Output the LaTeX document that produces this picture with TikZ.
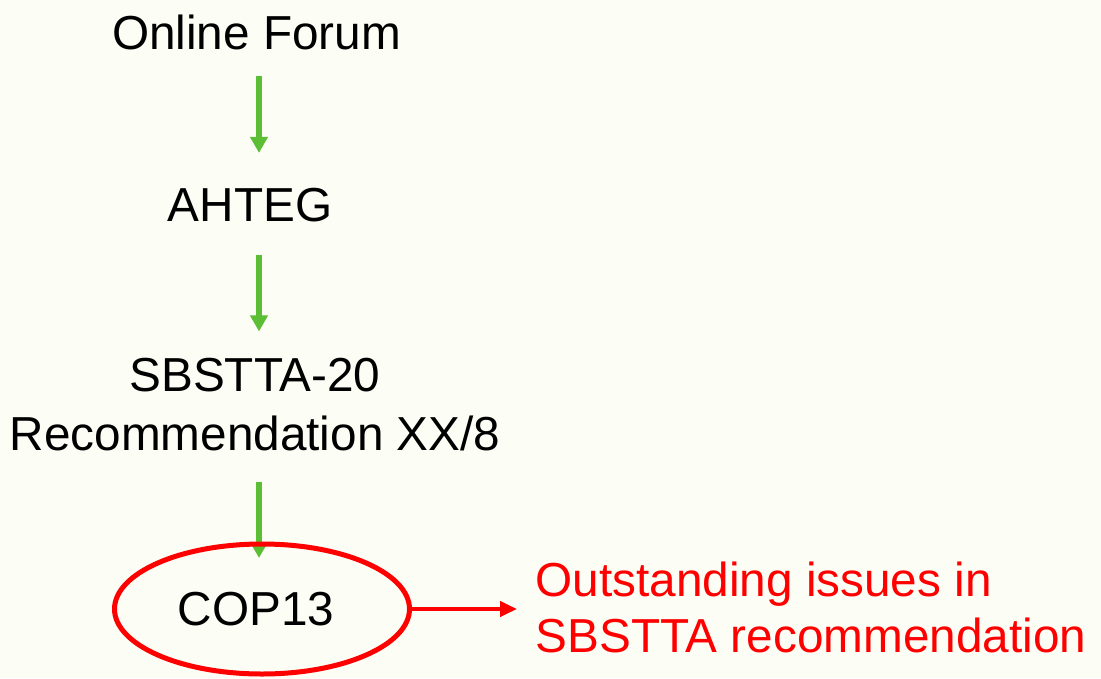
\documentclass[tikz,border=0pt]{standalone}
\usepackage{fontspec}
\setmainfont{Liberation Sans}
\usetikzlibrary{shapes.geometric,arrows.meta,backgrounds}

\definecolor{bgcream}{RGB}{252,253,244}
\definecolor{flowgreen}{RGB}{92,190,52}
\definecolor{issuered}{RGB}{255,0,0}

\begin{document}
\begin{tikzpicture}[x=1pt,y=-1pt,
  stage/.style={inner sep=0pt, font=\fontsize{47.7}{59}\selectfont, align=center},
  flow/.style={flowgreen, line width=6pt, -{Triangle[length=16pt,width=17pt]}}]
  \def\picW{1101} % em pontos
  \def\picH{678}

  \useasboundingbox (0,0) rectangle (\picW,\picH);
  \begin{scope}[on background layer]
    \fill[bgcream] (0,0) rectangle (\picW,\picH);
  \end{scope}

  \coordinate (axis) at (259,0);

  \node[stage, anchor=base] (forum) at (256.5,49) {Online Forum};
  \node[stage, anchor=base] (ahteg) at (250,221) {AHTEG};
  \node[stage] (sbstta) at (255,405) {SBSTTA-20\\Recommendation XX/8};
  \node[stage, ellipse, draw=issuered, line width=5pt,
        minimum width=295pt, minimum height=130pt] (cop) at (262,609) {COP13\hspace*{12pt}};
  \node[stage, issuered, anchor=west, align=left, font=\fontsize{47.7}{56}\selectfont]
        (issues) at (535.5,607) {Outstanding issues in\\SBSTTA recommendation};

  \begin{scope}[on background layer]
    \draw[flow, shorten <=26pt, shorten >=34.6pt] (forum.south -| axis) -- (ahteg.north -| axis);
    \draw[flow, shorten <=33.4pt, shorten >=27pt] (ahteg.south -| axis) -- (sbstta.north -| axis);
    \draw[flow, shorten <=30pt, shorten >=-16.5pt] (sbstta.south -| axis) -- (cop.north -| axis);
  \end{scope}

  \draw[issuered, line width=4pt, -{Triangle[length=17pt,width=15pt]}, shorten >=18.5pt]
    (cop.east) -- (cop.east -| issues.west);
\end{tikzpicture}
\end{document}
